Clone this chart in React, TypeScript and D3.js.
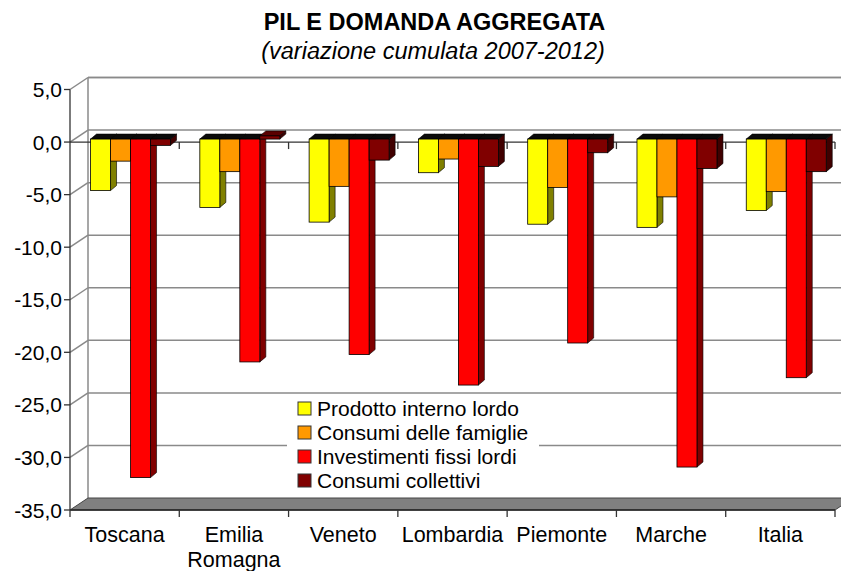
import React from "react";
import * as d3 from "d3";

const categories = ["Toscana", "Emilia Romagna", "Veneto", "Lombardia", "Piemonte", "Marche", "Italia"];
const seriesNames = ["Prodotto interno lordo", "Consumi delle famiglie", "Investimenti fissi lordi", "Consumi collettivi"];
const pil = [-4.9, -6.5, -7.9, -3.2, -8.1, -8.4, -6.8];
const consumiFamiglie = [-2.1, -3.1, -4.5, -1.9, -4.6, -5.5, -5.0];
const investimenti = [-32.2, -21.2, -20.5, -23.4, -19.4, -31.2, -22.7];
const consumiCollettivi = [-0.6, 0.3, -2.0, -2.6, -1.3, -2.8, -3.1];
const yTicks = [5, 0, -5, -10, -15, -20, -25, -30, -35];

const frontColors = ["#FFFF00", "#FF9900", "#FF0000", "#800000"];
const sideColors = ["#808000", "#804c00", "#800000", "#400000"];

const seriesValues = [pil, consumiFamiglie, investimenti, consumiCollettivi];

const W = 841;
const H = 571;
const FONT = "'Liberation Sans', Arial, sans-serif";

export default function App() {
  const left = 70;
  const right = 835;
  const y = d3.scaleLinear().domain([-35, 5]).range([510, 89.5]);
  const x = d3.scaleBand<string>().domain(categories).range([left, right]).padding(0);
  const bw = x.bandwidth();
  const inner = d3.scaleBand<string>().domain(seriesNames).range([bw * 0.188, bw * 0.92]).padding(0);
  const barW = inner.bandwidth();

  // wall depth offset
  const wdx = 18;
  const wdy = -12;
  // bar depth placement
  const fdy = -3;
  const bdx = 6;
  const bdy = -5;

  const y0 = y(0);
  const fmt = (v: number) => d3.format(".1f")(v).replace(".", ",").replace("−", "-");

  const bars: React.ReactNode[] = [];
  categories.forEach((c, ci) => {
    seriesNames.forEach((s, si) => {
      const v = seriesValues[si][ci];
      const bx = (x(c) as number) + (inner(s) as number);
      const yv = y(v) + fdy;
      const yz = y0 + fdy;
      const top = Math.min(yv, yz);
      const bot = Math.max(yv, yz);
      const pos = v > 0;
      bars.push(
        <g key={`${ci}-${si}`}>
          <polygon
            points={`${bx + barW},${top} ${bx + barW + bdx},${top + bdy} ${bx + barW + bdx},${bot + bdy} ${bx + barW},${bot}`}
            fill={sideColors[si]}
            stroke="#000"
            strokeWidth={0.6}
          />
          <polygon
            points={`${bx},${top} ${bx + bdx},${top + bdy} ${bx + barW + bdx},${top + bdy} ${bx + barW},${top}`}
            fill={pos ? "#5a0000" : "#0a0a0a"}
            stroke="#000"
            strokeWidth={0.6}
          />
          <rect x={bx} y={top} width={barW} height={bot - top} fill={frontColors[si]} stroke="#000" strokeWidth={0.8} />
        </g>
      );
    });
  });

  const gridColor = "#8a8a8a";
  const backRight = right + wdx;

  return (
    <svg
      width={W}
      height={H}
      style={{ position: "absolute", left: 0, top: 0, background: "#fff" }}
      fontFamily={FONT}
    >
      <rect x={0} y={0} width={W} height={H} fill="#fff" />
      {/* Title */}
      <text x={434.5} y={29.5} textAnchor="middle" fontSize={23.5} fontWeight="bold" fill="#000">
        PIL E DOMANDA AGGREGATA
      </text>
      <text x={433} y={59} textAnchor="middle" fontSize={23.5} fontStyle="italic" fill="#000">
        (variazione cumulata 2007-2012)
      </text>

      {/* walls */}
      <line x1={left + wdx} y1={y(5) + wdy} x2={backRight} y2={y(5) + wdy} stroke={gridColor} strokeWidth={1.5} />
      <line x1={left + wdx} y1={y(5) + wdy} x2={left + wdx} y2={y(-35) + wdy} stroke={gridColor} strokeWidth={1.5} />
      {yTicks
        .filter((t) => t > -35)
        .map((t) => (
          <g key={`g${t}`}>
            <line x1={left + wdx} y1={y(t) + wdy} x2={backRight} y2={y(t) + wdy} stroke={gridColor} strokeWidth={1.5} />
            <line x1={left} y1={y(t)} x2={left + wdx} y2={y(t) + wdy} stroke={gridColor} strokeWidth={1.5} />
          </g>
        ))}

      {/* floor */}
      <polygon
        points={`${left},${y(-35)} ${right},${y(-35)} ${right + wdx},${y(-35) + wdy} ${left + wdx},${y(-35) + wdy}`}
        fill="#808080"
        stroke="#444"
        strokeWidth={1}
      />
      <line x1={left} y1={y(-35)} x2={right} y2={y(-35)} stroke="#222" strokeWidth={1.3} />

      {/* y axis */}
      <line x1={left} y1={y(5)} x2={left} y2={y(-35)} stroke="#333" strokeWidth={1.3} />
      {yTicks.map((t) => (
        <g key={`t${t}`}>
          <line x1={left - 6} y1={y(t)} x2={left} y2={y(t)} stroke="#333" strokeWidth={1.3} />
          <text x={left - 8} y={y(t) + 7.5} textAnchor="end" fontSize={21} fill="#000">
            {fmt(t)}
          </text>
        </g>
      ))}

      {/* zero axis line with category ticks */}
      <line x1={left} y1={y0} x2={right} y2={y0} stroke="#333" strokeWidth={1.3} />
      {categories.map((c, i) => {
        const xe = (x(c) as number) + bw;
        return <line key={`zt${i}`} x1={xe} y1={y0} x2={xe} y2={y0 + 7} stroke="#333" strokeWidth={1.3} />;
      })}

      {/* bars */}
      {bars}

      {/* bottom category ticks */}
      {[left, ...categories.map((c) => (x(c) as number) + bw)].map((xx, i) => (
        <line key={`bt${i}`} x1={xx} y1={y(-35)} x2={xx} y2={y(-35) + 7} stroke="#333" strokeWidth={1.3} />
      ))}

      {/* category labels */}
      {categories.map((c) => {
        const cx = (x(c) as number) + bw / 2;
        const parts = c.split(" ");
        return (
          <text key={`c${c}`} x={cx} y={542} textAnchor="middle" fontSize={21.5} fill="#000">
            {parts.map((p, i) => (
              <tspan key={p} x={cx} dy={i === 0 ? 0 : 24.5}>
                {p}
              </tspan>
            ))}
          </text>
        );
      })}

      {/* legend */}
      <rect x={287} y={396} width={252} height={96} fill="#fff" />
      {seriesNames.map((s, i) => {
        const cy = 408.5 + i * 24;
        return (
          <g key={`l${s}`}>
            <rect x={298} y={cy - 6.5} width={13} height={13} fill={frontColors[i]} stroke="#333" strokeWidth={1} />
            <text x={317} y={cy + 7.5} fontSize={21} fill="#000">
              {s}
            </text>
          </g>
        );
      })}
    </svg>
  );
}
